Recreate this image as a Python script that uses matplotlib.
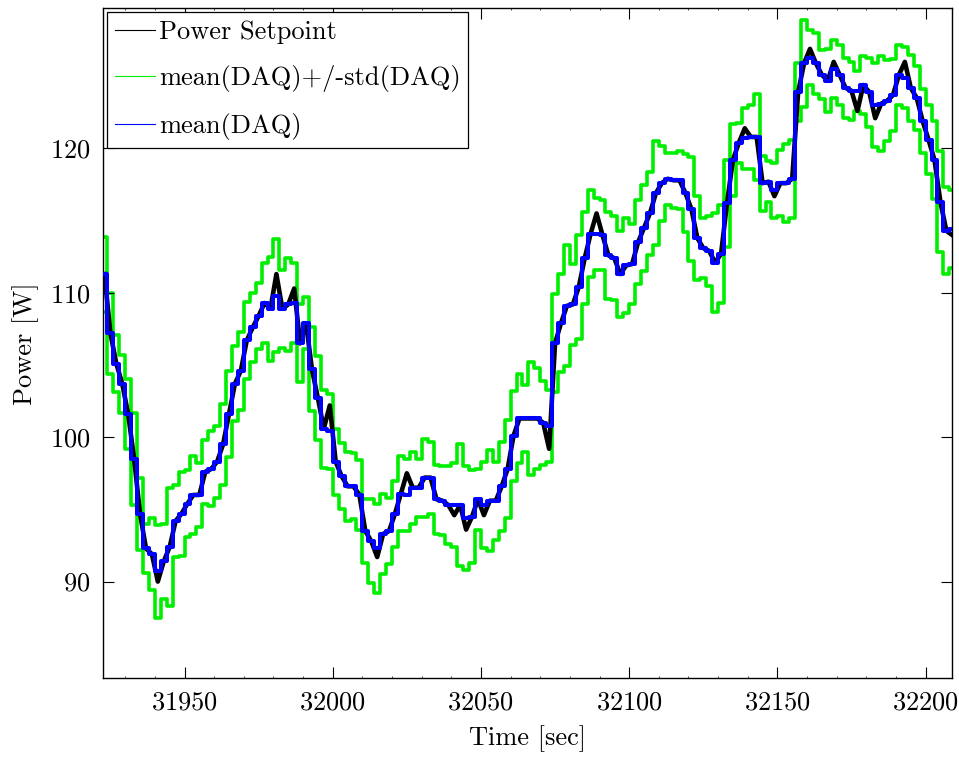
import matplotlib
matplotlib.use('Agg')
import matplotlib.pyplot as plt
import numpy as np
from matplotlib.lines import Line2D
from matplotlib.ticker import MultipleLocator

plt.rcParams['font.family'] = ['cmr10', 'DejaVu Serif']
plt.rcParams['mathtext.fontset'] = 'cm'
plt.rcParams['axes.formatter.use_mathtext'] = True

# time grid: one sample every 2 s
t_start = 31923
t_step = 2

# mean(DAQ)
mean_daq = [111.3, 107.2, 105.1, 103.7, 101.6, 98.5, 94.7, 92.3, 91.9, 90.7,
            91.4, 92.4, 94.2, 94.7, 95.4, 96.0, 96.0, 97.6, 97.8, 98.3,
            99.5, 101.6, 103.7, 104.6, 106.7, 107.6, 108.4, 109.3, 108.9, 109.8,
            108.9, 109.2, 109.3, 106.5, 107.9, 104.7, 102.7, 100.6, 100.4, 98.3,
            97.3, 96.6, 96.6, 96.0, 93.5, 92.8, 92.3, 93.3, 93.5, 94.7,
            96.1, 96.0, 96.5, 96.5, 97.2, 97.2, 95.7, 95.6, 95.3, 95.3,
            95.3, 94.4, 94.5, 95.7, 95.3, 95.6, 95.6, 96.6, 97.8, 100.1,
            101.3, 101.3, 101.3, 101.3, 101.0, 100.8, 106.5, 107.9, 109.1, 109.2,
            110.4, 112.4, 114.1, 114.1, 114.0, 112.6, 112.4, 111.3, 111.9, 112.0,
            113.5, 114.5, 115.5, 116.9, 117.6, 117.9, 117.8, 117.8, 116.9, 115.8,
            113.8, 113.1, 112.9, 112.1, 112.7, 116.2, 119.2, 120.4, 120.7, 120.8,
            120.8, 117.6, 117.7, 117.1, 117.6, 117.6, 117.9, 123.9, 125.9, 126.3,
            125.9, 125.1, 124.7, 125.5, 125.1, 124.2, 124.0, 124.0, 124.4, 123.9,
            123.0, 123.1, 123.3, 123.7, 125.1, 124.9, 124.2, 123.5, 121.9, 120.6,
            119.2, 116.3, 114.3, 114.4]

# std(DAQ)
std_daq = [2.6, 2.8, 2.0, 2.0, 2.4, 3.2, 2.5, 1.7, 2.5, 3.2,
           2.6, 4.1, 2.5, 2.9, 2.3, 2.7, 2.2, 2.2, 2.6, 2.5,
           2.8, 3.0, 2.6, 2.7, 2.7, 2.4, 2.3, 2.8, 3.6, 3.9,
           2.7, 3.2, 2.8, 2.7, 1.8, 2.9, 2.9, 2.7, 2.6, 2.3,
           2.3, 2.4, 2.3, 2.4, 2.2, 2.9, 3.1, 2.8, 2.3, 2.3,
           2.6, 2.5, 2.5, 2.0, 2.7, 2.5, 2.4, 2.4, 2.7, 2.9,
           4.2, 3.6, 3.2, 2.1, 3.0, 3.5, 2.7, 3.1, 3.4, 3.1,
           3.1, 2.3, 3.9, 3.5, 2.9, 2.5, 3.4, 3.4, 4.2, 2.8,
           3.6, 3.2, 3.0, 2.5, 2.4, 3.0, 2.9, 3.0, 3.3, 2.8,
           2.9, 3.0, 2.9, 3.6, 2.6, 1.8, 1.9, 2.0, 2.7, 3.6,
           2.9, 2.1, 2.4, 3.4, 3.4, 3.0, 2.5, 1.4, 2.1, 2.2,
           3.0, 1.9, 1.4, 1.9, 2.3, 2.7, 2.7, 2.0, 3.0, 1.9,
           2.1, 1.7, 2.2, 2.0, 2.1, 2.1, 2.0, 1.4, 2.0, 2.4,
           2.9, 3.3, 2.8, 2.5, 2.1, 2.1, 2.3, 2.2, 2.2, 2.4,
           2.7, 3.5, 3.0, 2.7]

# power setpoint
setpoint = [111.3, 107.2, 105.1, 103.7, 101.6, 98.5, 94.7, 92.3, 91.9, 90.0,
            91.4, 92.4, 94.2, 94.7, 95.4, 96.0, 96.0, 97.6, 97.8, 98.3,
            99.5, 101.6, 103.7, 104.6, 106.7, 107.6, 108.4, 109.3, 108.9, 111.3,
            108.9, 109.2, 110.3, 106.5, 107.9, 104.7, 102.7, 100.6, 102.2, 98.3,
            97.3, 96.6, 96.6, 96.0, 93.5, 92.8, 91.7, 93.3, 93.5, 94.7,
            96.1, 97.5, 96.5, 96.5, 97.2, 97.2, 95.7, 95.6, 95.3, 94.6,
            95.3, 93.6, 94.5, 95.7, 94.6, 95.6, 95.6, 96.6, 97.8, 100.1,
            101.3, 101.3, 101.3, 101.3, 101.0, 99.2, 106.5, 107.9, 109.1, 109.2,
            110.4, 112.4, 114.1, 115.5, 114.0, 112.6, 112.4, 111.3, 111.9, 112.0,
            113.5, 114.5, 115.5, 116.9, 117.6, 117.9, 117.8, 117.8, 116.9, 115.8,
            113.8, 113.1, 112.9, 112.1, 112.7, 116.2, 119.2, 120.4, 121.4, 120.8,
            120.8, 117.6, 117.7, 116.7, 117.6, 117.6, 117.9, 123.9, 125.9, 126.9,
            125.9, 125.1, 124.7, 126.0, 125.1, 124.2, 124.0, 122.6, 124.4, 123.9,
            122.1, 123.1, 123.3, 123.7, 125.1, 126.0, 124.2, 123.5, 121.9, 120.6,
            119.2, 116.3, 114.3, 114.0]

t = t_start + t_step * np.arange(len(mean_daq))
mean_daq = np.array(mean_daq)
std_daq = np.array(std_daq)
upper = mean_daq + std_daq
lower = mean_daq - std_daq

fig = plt.figure(figsize=(9.59, 7.57), dpi=100)
ax = fig.add_axes([0.1077, 0.104, 0.8853, 0.8848])

green = '#00ee00'
ax.plot(t, setpoint, color='black', lw=3.3, zorder=2)
ax.plot(t, upper, color=green, lw=2.6, drawstyle='steps-mid', zorder=1)
ax.plot(t, lower, color=green, lw=2.6, drawstyle='steps-mid', zorder=1)
ax.plot(t, mean_daq, color='#0000ff', lw=2.9, drawstyle='steps-mid', zorder=3)

ax.set_xlim(31922.6, 32209)
ax.set_ylim(83.3, 129.7)
ax.xaxis.set_major_locator(MultipleLocator(50))
ax.xaxis.set_minor_locator(MultipleLocator(10))
ax.yaxis.set_major_locator(MultipleLocator(10))
ax.tick_params(which='both', direction='in', top=True, right=True, labelsize=19)
ax.tick_params(which='major', length=8, width=0.8, pad=9)
ax.tick_params(which='minor', length=1.5, width=0.5)
for s in ax.spines.values():
    s.set_linewidth(1.0)

ax.set_xlabel('Time [sec]', fontsize=19, labelpad=8)
ax.set_ylabel('Power [W]', fontsize=19, labelpad=8)

handles = [Line2D([], [], color='black', lw=0.8),
           Line2D([], [], color=green, lw=0.8),
           Line2D([], [], color='#0000ff', lw=0.8)]
labels = ['Power Setpoint', 'mean(DAQ)+/-std(DAQ)', 'mean(DAQ)']
leg = ax.legend(handles, labels, loc='upper left', fontsize=19, fancybox=False,
                edgecolor='black', framealpha=1, borderaxespad=0.15,
                handlelength=1.5, handletextpad=0.15, labelspacing=0.8,
                borderpad=0.3)
leg.get_frame().set_linewidth(0.9)

fig.savefig('out.png', dpi=100)
